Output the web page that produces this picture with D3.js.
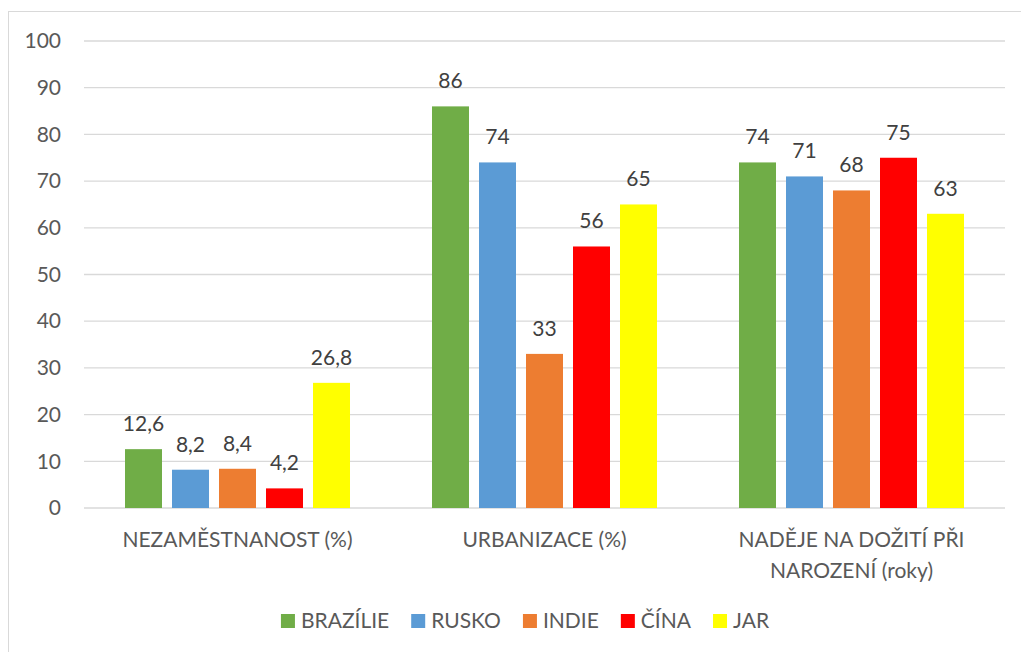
<!DOCTYPE html>
<html>
<head>
<meta charset="utf-8">
<script src="https://cdn.jsdelivr.net/npm/d3@7"></script>
<style>
  body { margin: 0; background: #fff; }
  text { font-family: Lato, "Open Sans", sans-serif; }
</style>
</head>
<body>
<svg width="1021" height="652"></svg>
<script>
var categories = [["NEZAMĚSTNANOST (%)"], ["URBANIZACE (%)"], ["NADĚJE NA DOŽITÍ PŘI", "NAROZENÍ (roky)"]];
var series = ["BRAZÍLIE", "RUSKO", "INDIE", "ČÍNA", "JAR"];
var colors = ["#70ad47", "#5b9bd5", "#ed7d31", "#ff0000", "#ffff00"];
var brazilie = [12.6, 86, 74];
var rusko = [8.2, 74, 71];
var indie = [8.4, 33, 68];
var cina = [4.2, 56, 75];
var jar = [26.8, 65, 63];
var yTicks = [0, 10, 20, 30, 40, 50, 60, 70, 80, 90, 100];

var values = [brazilie, rusko, indie, cina, jar];
var fs = 21;

var svg = d3.select("svg"),
    margin = {top: 41, right: 16, bottom: 144, left: 84},
    width = 1021 - margin.left - margin.right,
    height = 652 - margin.top - margin.bottom;

// chart border (cut off at right and bottom like the picture)
svg.append("rect")
    .attr("x", 8.5).attr("y", 11.5)
    .attr("width", 1030).attr("height", 660)
    .attr("fill", "none")
    .attr("stroke", "#d9d9d9");

var g = svg.append("g").attr("transform", "translate(" + margin.left + "," + margin.top + ")");

var x0 = d3.scaleBand().domain(d3.range(categories.length)).range([0, width]);
var x1 = d3.scaleBand().domain(series).range([0, 225]).paddingInner(10 / 47);
var y = d3.scaleLinear().domain([0, 100]).range([height, 0]);
var z = d3.scaleOrdinal().domain(series).range(colors);

// gridlines
g.selectAll(".grid")
    .data(yTicks)
    .enter().append("line")
    .attr("x1", 0).attr("x2", width)
    .attr("y1", function(d) { return y(d); })
    .attr("y2", function(d) { return y(d); })
    .attr("stroke", "#d9d9d9")
    .attr("stroke-width", 1.3);

var yAxis = g.append("g")
    .call(d3.axisLeft(y).tickValues(yTicks).tickSize(0).tickPadding(23));
yAxis.select(".domain").remove();
yAxis.selectAll("text")
    .attr("font-size", fs)
    .attr("font-family", "Lato, sans-serif")
    .attr("fill", "#595959");

var group = g.selectAll(".cat")
    .data(categories)
    .enter().append("g")
    .attr("class", "cat")
    .attr("transform", function(d, i) {
        return "translate(" + (x0(i) + x0.bandwidth() / 2 - 112.5) + ",0)";
    });

group.selectAll("rect")
    .data(function(d, i) {
        return series.map(function(s, j) { return {s: s, v: values[j][i]}; });
    })
    .enter().append("rect")
    .attr("x", function(d) { return x1(d.s); })
    .attr("width", x1.bandwidth())
    .attr("y", function(d) { return y(d.v); })
    .attr("height", function(d) { return height - y(d.v); })
    .attr("fill", function(d) { return z(d.s); });

group.selectAll(".lbl")
    .data(function(d, i) {
        return series.map(function(s, j) { return {s: s, v: values[j][i]}; });
    })
    .enter().append("text")
    .attr("class", "lbl")
    .attr("x", function(d) { return x1(d.s) + x1.bandwidth() / 2; })
    .attr("y", function(d) { return y(d.v) - 18; })
    .attr("text-anchor", "middle")
    .attr("font-size", fs)
    .attr("fill", "#404040")
    .text(function(d) { return String(d.v).replace(".", ","); });

// category labels
g.selectAll(".catlbl")
    .data(categories)
    .enter().append("text")
    .attr("class", "catlbl")
    .attr("text-anchor", "middle")
    .attr("font-size", fs)
    .attr("fill", "#595959")
    .attr("transform", function(d, i) {
        return "translate(" + (x0(i) + x0.bandwidth() / 2) + "," + (height + 39) + ")";
    })
    .each(function(d) {
        var t = d3.select(this);
        d.forEach(function(line, k) {
            t.append("tspan").attr("x", 0).attr("y", k * 31).text(line);
        });
    });

// legend
var legend = svg.append("g").attr("transform", "translate(0,628)");
var items = legend.selectAll(".item")
    .data(series)
    .enter().append("g")
    .attr("class", "item");
items.append("rect")
    .attr("width", 14).attr("height", 14)
    .attr("y", -14)
    .attr("fill", function(d) { return z(d); });
items.append("text")
    .attr("x", 20)
    .attr("font-size", fs)
    .attr("fill", "#595959")
    .text(function(d) { return d; });

var widths = [];
items.each(function() {
    widths.push(20 + d3.select(this).select("text").node().getComputedTextLength());
});
var gap = 22;
var total = d3.sum(widths) + gap * (widths.length - 1);
var pos = 525 - total / 2;
items.attr("transform", function(d, i) {
    var p = pos;
    pos += widths[i] + gap;
    return "translate(" + p + ",0)";
});
</script>
</body>
</html>
